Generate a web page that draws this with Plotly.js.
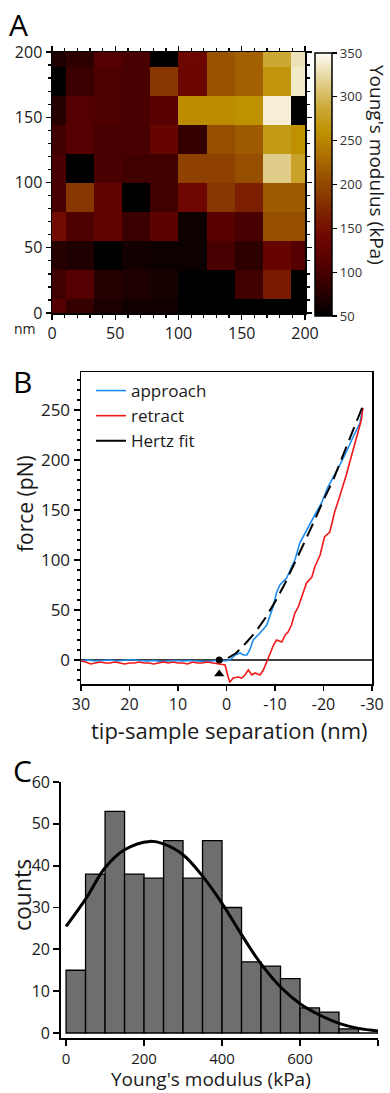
<!DOCTYPE html>
<html>
<head>
<meta charset="utf-8">
<script src="https://cdn.plot.ly/plotly-3.0.1.min.js"></script>
<style>html,body{margin:0;padding:0;background:#fff;}#chart{width:390px;height:1093px;}</style>
</head>
<body>
<div id="chart"></div>
<script>
// ---------- Panel A: Young's modulus map ----------
const mapX = [0, 22.2, 44.4, 66.7, 88.9, 111.1, 133.3, 155.6, 177.8, 200];
const mapY = [0, 22.2, 44.4, 66.7, 88.9, 111.1, 133.3, 155.6, 177.8, 200];
const mapRow0 = [110, 85, 68, 62, 62, 40, 40, 40, 40, 40];
const mapRow1 = [95, 110, 75, 70, 65, 40, 40, 95, 160, 40];
const mapRow2 = [75, 70, 40, 62, 58, 58, 100, 80, 130, 110];
const mapRow3 = [145, 105, 125, 90, 120, 60, 115, 100, 205, 205];
const mapRow4 = [100, 185, 125, 40, 95, 140, 185, 165, 215, 215];
const mapRow5 = [100, 40, 100, 95, 95, 195, 195, 205, 315, 280];
const mapRow6 = [95, 110, 100, 100, 130, 85, 205, 215, 270, 260];
const mapRow7 = [75, 110, 105, 100, 115, 255, 255, 260, 340, 40];
const mapRow8 = [40, 90, 105, 100, 185, 135, 210, 220, 265, 335];
const mapRow9 = [70, 80, 110, 100, 40, 140, 210, 220, 285, 330];
const colorbarTicks = [50, 100, 150, 200, 250, 300, 350];
const mapTicks = [0, 50, 100, 150, 200];

// ---------- Panel B: force curves ----------
const approachX = [30, 28.5, 27, 25.5, 24, 22.5, 21, 19.5, 18, 16.5, 15, 13.5, 12, 10.5, 9, 7.5, 6, 4.5, 3, 1.5, 0.5, -0.7, -1.8, -2.8, -3.5, -4.2, -4.8, -5.5, -6.9, -8.3, -9.6, -10.3, -11, -12.4, -13.4, -14.1, -15.1, -16.5, -18.2, -19.6, -20.9, -22.6, -24.4, -26.1, -27.1, -27.5, -28.1];
const approachY = [-1, 0, -1, -0.5, 0, -1, -0.5, 0.5, -0.5, -1, -0.5, -1.5, -1, -0.5, -1, -0.5, -1, -1.5, -1, 0, -1, 0, 5, 7, 5, 5, 10, 20, 27, 35, 53, 67, 75, 82, 93, 100, 117, 130, 145, 157, 173, 188, 205, 223, 232, 237, 252];
const retractX = [30, 29, 28, 27, 26, 25, 24, 23, 22, 21, 20, 19, 18, 17, 16, 15, 14, 13, 12, 11, 10, 9, 8, 7, 6, 5, 4, 2.7, 1.2, 0.3, -0.4, -0.7, -1.4, -2.4, -3.1, -3.8, -4.5, -5.2, -5.9, -6.9, -7.6, -8.6, -9.7, -10.3, -11.4, -12.1, -12.7, -13.4, -14.1, -14.8, -15.8, -16.5, -17.6, -18.2, -19.3, -20.2, -21.3, -22.3, -23.3, -24.7, -26.1, -27.1, -27.8, -28.1];
const retractY = [-1, -2, -4, -3, -2, -3, -3, -2, -3, -4, -3, -3, -2, -3, -3, -4, -3, -2, -3, -2, -3, -3, -4, -2, -3, -3, -2, -3, -4, -5, -18, -22, -18, -17, -18, -15, -10, -15, -13, -15, -10, 2, 15, 20, 18, 25, 28, 35, 47, 53, 67, 77, 83, 93, 105, 123, 128, 148, 163, 185, 210, 227, 240, 252];
const hertzX = [-0.3, -1, -2, -4, -6, -8, -10, -12, -14, -16, -18, -20, -22, -24, -26, -28.1];
const hertzY = [2, 4, 7, 17, 28, 42, 58, 76, 96, 117, 138, 160, 180, 204, 228, 254];
const contactX = [1.5];
const contactY = [0];
const arrowY = [-14];
const sepTicks = [30, 20, 10, 0, -10, -20, -30];
const sepLabels = ["30", "20", "10", "0", "-10", "-20", "-30"];

// ---------- Panel C: histogram ----------
const binCenters = [25, 75, 125, 175, 225, 275, 325, 375, 425, 475, 525, 575, 625, 675, 725, 775];
const binCounts = [15, 38, 53, 38, 37, 46, 37, 46, 30, 17, 16, 13, 6, 5, 1, 0];
const fitX = [0, 50, 100, 150, 215, 250, 300, 350, 400, 450, 500, 550, 600, 650, 700, 750, 800];
const fitY = [25.5, 32, 39.5, 43.8, 45.8, 45.2, 42.6, 37.5, 31, 23.5, 16.5, 11, 7, 4.3, 2.3, 1.1, 0.5];
const histXTicks = [0, 200, 400, 600, 800];
const histYTicks = [0, 10, 20, 30, 40, 50, 60];

const W = 390, H = 1093;
const px = v => v / W;
const py = v => 1 - v / H;
const FONT = "Open Sans, Noto Sans, sans-serif";
const TXT = "#1a1a1a";

const traces = [
  {
    type: "heatmap", x: mapX, y: mapY,
    z: [mapRow0, mapRow1, mapRow2, mapRow3, mapRow4, mapRow5, mapRow6, mapRow7, mapRow8, mapRow9],
    zmin: 50, zmax: 350, xaxis: "x", yaxis: "y", showscale: true, hoverinfo: "skip",
    colorscale: [
      [0, "rgb(0,0,0)"], [0.1, "rgb(45,0,0)"], [0.2, "rgb(85,0,0)"], [0.3, "rgb(110,6,0)"],
      [0.4, "rgb(126,36,0)"], [0.5, "rgb(146,72,0)"], [0.6, "rgb(170,108,0)"],
      [0.7, "rgb(190,145,0)"], [0.8, "rgb(206,172,62)"], [0.9, "rgb(228,212,152)"], [1, "rgb(255,253,245)"]
    ],
    colorbar: {
      x: px(315), xanchor: "left", xpad: 0, y: py(184.5), yanchor: "middle", ypad: 0,
      lenmode: "pixels", len: 263, thickness: 17, thicknessmode: "pixels",
      outlinewidth: 1.5, outlinecolor: "#000",
      tickmode: "array", tickvals: colorbarTicks, ticks: "outside", ticklen: 5, tickwidth: 1.2, tickcolor: "#000",
      tickfont: {size: 13, color: "#333", family: FONT}
    }
  },
  { type: "scatter", mode: "lines", x: approachX, y: approachY, xaxis: "x2", yaxis: "y2",
    name: "approach", line: {color: "#1e8cf0", width: 1.6}, showlegend: true },
  { type: "scatter", mode: "lines", x: retractX, y: retractY, xaxis: "x2", yaxis: "y2",
    name: "retract", line: {color: "#f01818", width: 1.6}, showlegend: true },
  { type: "scatter", mode: "lines", x: hertzX, y: hertzY, xaxis: "x2", yaxis: "y2",
    name: "Hertz fit", line: {color: "#000", width: 2, dash: "14px,7px"}, showlegend: false },
  { type: "scatter", mode: "lines", x: [null], y: [null], xaxis: "x2", yaxis: "y2",
    name: "Hertz fit", line: {color: "#000", width: 2}, showlegend: true },
  { type: "scatter", mode: "markers", x: contactX, y: contactY, xaxis: "x2", yaxis: "y2",
    marker: {color: "#000", size: 7}, showlegend: false },
  { type: "scatter", mode: "markers", x: contactX, y: arrowY, xaxis: "x2", yaxis: "y2",
    marker: {color: "#000", size: 9, symbol: "triangle-up"}, showlegend: false },
  { type: "bar", x: binCenters, y: binCounts, width: 50, xaxis: "x3", yaxis: "y3",
    marker: {color: "#6e6e6e", line: {color: "#000", width: 1.3}}, showlegend: false },
  { type: "scatter", mode: "lines", x: fitX, y: fitY, xaxis: "x3", yaxis: "y3",
    line: {color: "#000", width: 3, shape: "spline"}, showlegend: false }
];

const axBase = {
  showline: true, linecolor: "#000", linewidth: 1.5, ticks: "outside", tickcolor: "#000",
  tickwidth: 1.3, showgrid: false, zeroline: false, tickfont: {size: 16, color: TXT, family: FONT}
};

function ann(text, x, y, size, angle) {
  return {text: text, x: px(x), y: py(y), xref: "paper", yref: "paper", xanchor: "center", yanchor: "middle",
    showarrow: false, textangle: angle || 0, font: {size: size, color: (size >= 28 ? "#000" : TXT), family: FONT}};
}

const layout = {
  width: W, height: H, autosize: false,
  margin: {l: 0, r: 0, t: 0, b: 0},
  paper_bgcolor: "#fff", plot_bgcolor: "#fff",
  font: {family: FONT, color: TXT},
  showlegend: true,
  legend: {x: px(91), y: py(373), xanchor: "left", yanchor: "top", bgcolor: "rgba(0,0,0,0)",
    font: {size: 17, color: TXT, family: FONT}, itemwidth: 30, tracegroupgap: 0},
  xaxis: Object.assign({}, axBase, {domain: [px(52), px(305)], anchor: "y", range: [0, 200],
    tickmode: "array", tickvals: mapTicks, ticklen: 5, mirror: "allticks",
    minor: {dtick: 10, tick0: 0, ticklen: 3, ticks: "outside", tickcolor: "#000", showgrid: false}}),
  yaxis: Object.assign({}, axBase, {domain: [py(313), py(52)], anchor: "x", range: [0, 200],
    tickmode: "array", tickvals: mapTicks, ticklen: 5, mirror: "allticks",
    minor: {dtick: 10, tick0: 0, ticklen: 3, ticks: "outside", tickcolor: "#000", showgrid: false}}),
  xaxis2: Object.assign({}, axBase, {domain: [px(81), px(372)], anchor: "y2", range: [30, -30],
    tickmode: "array", tickvals: sepTicks, ticktext: sepLabels, ticklen: 5, mirror: true,
    tickfont: {size: 16, color: TXT, family: FONT}}),
  yaxis2: Object.assign({}, axBase, {domain: [py(684), py(372)], anchor: "x2", range: [-24, 288],
    tick0: 0, dtick: 50, ticklen: 6, mirror: true,
    tickfont: {size: 17, color: TXT, family: FONT},
    minor: {dtick: 10, tick0: 0, ticklen: 3, ticks: "outside", tickcolor: "#000", showgrid: false}}),
  xaxis3: Object.assign({}, axBase, {domain: [px(61), px(378)], anchor: "y3", range: [-13, 800],
    tickmode: "array", tickvals: histXTicks, ticklen: 6, linewidth: 1.8, tickwidth: 1.8,
    tickfont: {size: 15, color: TXT, family: FONT}}),
  yaxis3: Object.assign({}, axBase, {domain: [py(1038), py(782)], anchor: "x3", range: [-1.2, 60],
    tickmode: "array", tickvals: histYTicks, ticklen: 6, linewidth: 1.8, tickwidth: 1.8,
    tickfont: {size: 16, color: TXT, family: FONT}}),
  bargap: 0,
  shapes: [
    {type: "line", xref: "x2", yref: "y2", x0: 30, x1: -30, y0: 0, y1: 0, line: {color: "#000", width: 1.5}, layer: "below"}
  ],
  annotations: [
    ann("A", 18, 25, 30),
    ann("B", 22, 381, 30),
    ann("C", 22, 770, 30),
    ann("nm", 25, 328, 14),
    ann("Young's modulus (kPa)", 377, 165, 19, 90),
    ann("force (pN)", 25, 503, 21, -90),
    ann("tip-sample separation (nm)", 229, 730, 22),
    ann("counts", 22, 895, 23, -90),
    ann("Young's modulus (kPa)", 211, 1079, 19)
  ]
};

Plotly.newPlot("chart", traces, layout, {staticPlot: true, displayModeBar: false});
</script>
</body>
</html>
